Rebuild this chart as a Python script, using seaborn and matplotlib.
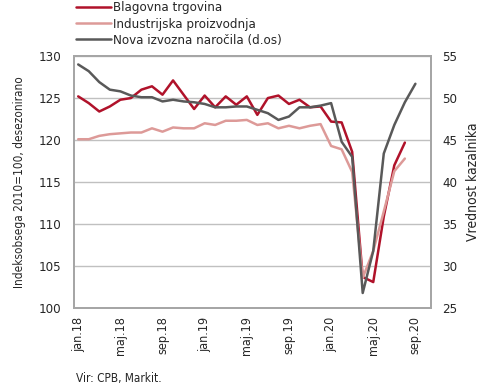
import numpy as np
import pandas as pd
import matplotlib
matplotlib.use('Agg')
import matplotlib.pyplot as plt
from matplotlib import font_manager
import seaborn as sns

# month labels (jan.18 .. sep.20)
months = ['jan.18', 'feb.18', 'mar.18', 'apr.18', 'maj.18', 'jun.18', 'jul.18', 'avg.18',
          'sep.18', 'okt.18', 'nov.18', 'dec.18', 'jan.19', 'feb.19', 'mar.19', 'apr.19',
          'maj.19', 'jun.19', 'jul.19', 'avg.19', 'sep.19', 'okt.19', 'nov.19', 'dec.19',
          'jan.20', 'feb.20', 'mar.20', 'apr.20', 'maj.20', 'jun.20', 'jul.20', 'avg.20',
          'sep.20']

# Blagovna trgovina (left axis), jan.18 .. avg.20
trade = [125.2, 124.4, 123.4, 124.0, 124.8, 125.0, 126.0, 126.4, 125.4, 127.1, 125.4, 123.7,
         125.3, 123.9, 125.2, 124.2, 125.2, 123.0, 125.0, 125.3, 124.3, 124.8, 123.9, 124.0,
         122.2, 122.1, 118.6, 103.7, 103.1, 110.9, 117.0, 119.7]

# Industrijska proizvodnja (left axis), jan.18 .. avg.20
industry = [120.1, 120.1, 120.5, 120.7, 120.8, 120.9, 120.9, 121.4, 121.0, 121.5, 121.4, 121.4,
            122.0, 121.8, 122.3, 122.3, 122.4, 121.8, 122.0, 121.4, 121.7, 121.4, 121.7, 121.9,
            119.3, 118.9, 116.2, 103.6, 106.8, 111.5, 116.3, 117.8]

# Nova izvozna narocila (right axis), jan.18 .. sep.20
orders = [54.0, 53.2, 51.9, 51.0, 50.8, 50.3, 50.1, 50.1, 49.6, 49.8, 49.6, 49.5,
          49.3, 48.9, 48.9, 49.0, 49.0, 48.6, 48.2, 47.4, 47.8, 48.9, 48.9, 49.1,
          49.4, 44.8, 43.0, 26.8, 31.8, 43.4, 46.8, 49.5, 51.7]

left_df = pd.DataFrame({
    'x': list(range(len(trade))) + list(range(len(industry))),
    'value': trade + industry,
    'series': ['Blagovna trgovina'] * len(trade) + ['Industrijska proizvodnja'] * len(industry),
})
right_df = pd.DataFrame({'x': range(len(orders)), 'value': orders})

sns.set_style('white')
# narrow font if there is one
names = {f.name for f in font_manager.fontManager.ttflist}
if 'Liberation Sans Narrow' in names:
    plt.rcParams['font.family'] = ['Liberation Sans Narrow', 'DejaVu Sans']
else:
    plt.rcParams['font.family'] = ['DejaVu Sans']
    plt.rcParams['font.stretch'] = 'condensed'

fig = plt.figure(figsize=(4.9, 3.92), dpi=100)
ax = fig.add_axes([0.151, 0.214, 0.729, 0.643])
ax2 = ax.twinx()

red = '#b0122a'
pink = '#dd9a98'
grey = '#595959'

sns.lineplot(data=left_df, x='x', y='value', hue='series',
             palette=[red, pink], linewidth=1.8, ax=ax, legend=False)
sns.lineplot(data=right_df, x='x', y='value', color=grey, linewidth=1.8, ax=ax2)

ax.set_xlim(-0.4, 33.5)
ax.set_ylim(100, 130)
ax2.set_ylim(25, 55)
ax.set_yticks(range(100, 131, 5))
ax2.set_yticks(range(25, 56, 5))
ax.set_xticks(range(0, len(months), 4))
ax.set_xticklabels(months[::4], rotation=90, fontsize=9)
ax.tick_params(axis='x', length=0, pad=6)
ax.tick_params(axis='y', length=0, pad=9, labelsize=9.5)
ax2.tick_params(axis='y', length=0, pad=8, labelsize=9.5)
ax.grid(axis='y', color='#c0c0c0', linewidth=1)
ax.set_axisbelow(True)
for a in (ax, ax2):
    for s in a.spines.values():
        s.set_color('#a6a6a6')
        s.set_linewidth(1.3)

ax.set_xlabel('')
ax.set_ylabel('Indeksobsega 2010=100, desezonirano', fontsize=8.5, labelpad=9)
ax2.set_xlabel('')
ax2.set_ylabel('Vrednost kazalnika', fontsize=10, labelpad=6)

handles = [plt.Line2D([], [], color=red, linewidth=1.8),
           plt.Line2D([], [], color=pink, linewidth=1.8),
           plt.Line2D([], [], color=grey, linewidth=1.8)]
fig.legend(handles, ['Blagovna trgovina', 'Industrijska proizvodnja', 'Nova izvozna naročila (d.os)'],
           loc='upper left', bbox_to_anchor=(0.145, 1.01), frameon=False, fontsize=9.5,
           handlelength=2.6, handletextpad=0.2, labelspacing=0.25, borderaxespad=0)

fig.text(0.155, 0.025, 'Vir: CPB, Markit.', fontsize=8.5)

fig.savefig('out.png', dpi=100)
